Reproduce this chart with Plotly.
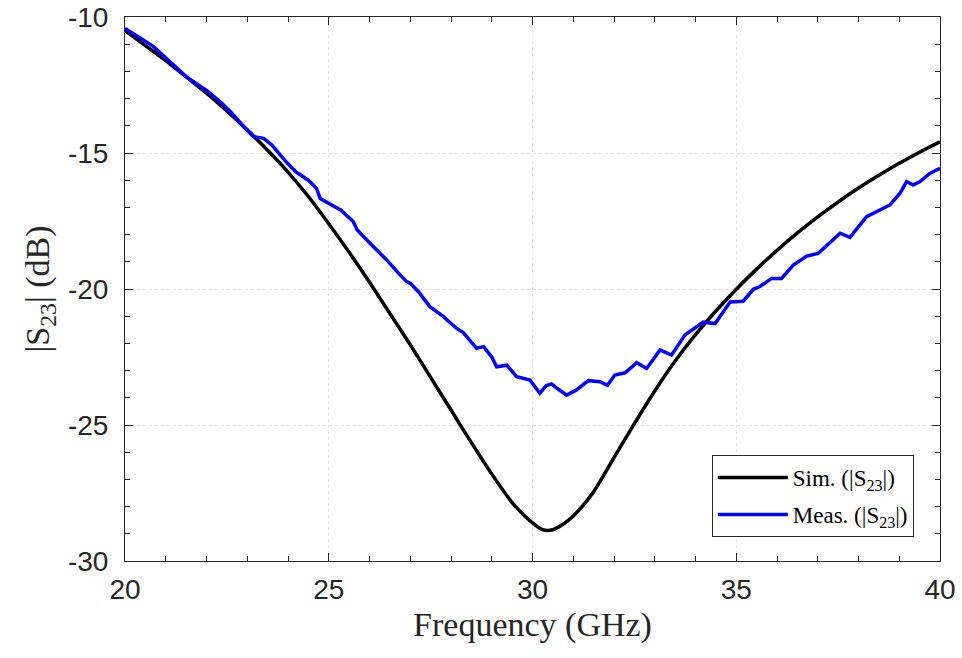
import plotly.graph_objects as go

# Simulated |S23| (dB)
sim_freq = [20, 20.5, 21, 21.5, 22, 22.5, 23, 23.5, 24, 24.5, 25, 25.5, 26, 26.5, 27, 27.5,
            28, 28.5, 29, 29.5, 30, 30.25, 30.5, 30.75, 31, 31.5, 32, 32.5, 33, 33.5, 34, 34.5,
            35, 35.5, 36, 36.5, 37, 37.5, 38, 38.5, 39, 39.5, 40]
sim_s23 = [-10.5, -11.05, -11.6, -12.2, -12.8, -13.45, -14.15, -14.9, -15.7, -16.6, -17.6, -18.65,
           -19.75, -20.9, -22.05, -23.25, -24.45, -25.65, -26.8, -27.85, -28.6, -28.85, -28.85,
           -28.65, -28.35, -27.45, -26.2, -24.95, -23.75, -22.65, -21.68, -20.81, -20.01, -19.27,
           -18.58, -17.94, -17.35, -16.8, -16.29, -15.82, -15.38, -14.97, -14.59]

# Measured |S23| (dB)
meas_freq = [20.0, 20.2, 20.4, 20.7, 21.0, 21.2, 21.5, 21.8, 22.0, 22.33, 22.6, 22.9, 23.15, 23.4,
             23.6, 23.97, 24.2, 24.5, 24.7, 24.79, 25.0, 25.3, 25.6, 25.7, 26.0, 26.34, 26.42,
             26.7, 26.91, 27.0, 27.2, 27.48, 27.8, 28.14, 28.3, 28.63, 28.8, 29.0, 29.12, 29.37,
             29.61, 29.94, 30.18, 30.34, 30.47, 30.6, 30.84, 31.08, 31.37, 31.66, 31.84, 32.02,
             32.27, 32.56, 32.8, 33.13, 33.41, 33.74, 34.19, 34.48, 34.85, 35.17, 35.42, 35.58,
             35.87, 36.11, 36.4, 36.73, 37.01, 37.55, 37.79, 38.2, 38.69, 38.77, 39.02, 39.18,
             39.34, 39.51, 39.75, 40.0]
meas_s23 = [-10.42, -10.6, -10.8, -11.09, -11.5, -11.75, -12.19, -12.5, -12.7, -13.11, -13.5,
            -14.0, -14.4, -14.46, -14.7, -15.35, -15.7, -16.0, -16.3, -16.67, -16.85, -17.1,
            -17.52, -17.83, -18.3, -18.81, -18.93, -19.4, -19.73, -19.79, -20.1, -20.65, -21.0,
            -21.45, -21.6, -22.18, -22.12, -22.5, -22.86, -22.8, -23.22, -23.35, -23.83, -23.55,
            -23.49, -23.65, -23.9, -23.71, -23.37, -23.41, -23.54, -23.16, -23.08, -22.71,
            -22.92, -22.24, -22.43, -21.69, -21.22, -21.27, -20.48, -20.45, -20.01, -19.91,
            -19.61, -19.61, -19.12, -18.79, -18.69, -17.95, -18.1, -17.34, -16.95, -16.91,
            -16.48, -16.05, -16.18, -16.05, -15.75, -15.56]

x_ticks = [20, 25, 30, 35, 40]
y_ticks = [-30, -25, -20, -15, -10]

fig = go.Figure()
fig.add_trace(go.Scatter(x=sim_freq, y=sim_s23, mode="lines",
                         line=dict(color="black", width=3.5, shape="spline", smoothing=0.8),
                         name="Sim. (|S<sub>23</sub>|)", legendgroup="sim"))
fig.add_trace(go.Scatter(x=meas_freq, y=meas_s23, mode="lines", line=dict(color="#0000FF", width=3.5),
                         name="Meas. (|S<sub>23</sub>|)", legendgroup="meas"))

axis_common = dict(
    showline=True, linecolor="#262626", linewidth=1, mirror="allticks",
    ticks="inside", ticklen=8, tickcolor="#262626", tickwidth=1,
    showgrid=True, gridcolor="#dedede", griddash="dot", gridwidth=1,
    zeroline=False, automargin=False, ticklabeloverflow="allow",
    tickfont=dict(family="Liberation Sans, Arial", size=28, color="#262626"),
)

fig.update_xaxes(range=[20, 40], tickvals=x_ticks, ticktext=[str(v) for v in x_ticks],
                 minor=dict(dtick=1, ticks="inside", ticklen=5, tickcolor="#262626", showgrid=False),
                 ticklabelstandoff=3,
                 title=dict(text="Frequency (GHz)", font=dict(family="Liberation Serif, Times New Roman", size=34, color="#262626"), standoff=8),
                 **axis_common)
fig.update_yaxes(range=[-30, -10], tickvals=y_ticks, ticktext=[str(v) for v in y_ticks],
                 minor=dict(dtick=1, ticks="inside", ticklen=5, tickcolor="#262626", showgrid=False),
                 ticklabelstandoff=10,
                 title=dict(text="|S<sub>23</sub>| (dB)", font=dict(family="Liberation Serif, Times New Roman", size=34, color="#262626"), standoff=8),
                 **axis_common)

fig.update_layout(
    width=962, height=658,
    margin=dict(l=125, r=22, t=17, b=97),
    paper_bgcolor="white", plot_bgcolor="white",
    showlegend=True,
    legend=dict(x=0.72, y=0.044, xanchor="left", yanchor="bottom",
                bgcolor="white", bordercolor="#262626", borderwidth=1,
                font=dict(family="Liberation Serif, Times New Roman", size=23, color="black"),
                itemwidth=70, traceorder="grouped", tracegroupgap=4),
)

fig.write_html("out.html", config={"displayModeBar": False},
               post_script="document.body.style.margin='0';document.body.style.overflow='hidden';")
